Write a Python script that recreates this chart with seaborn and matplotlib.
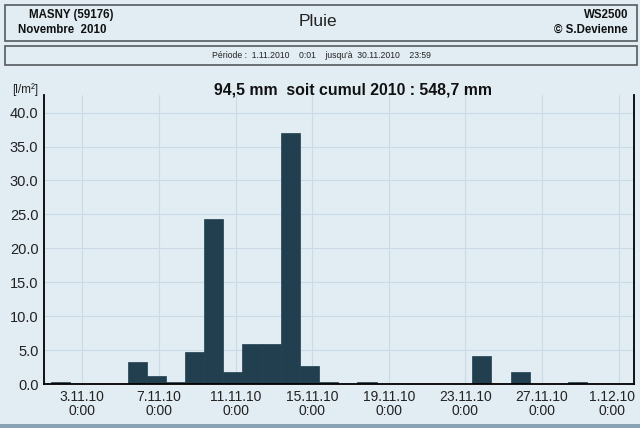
import numpy as np
import pandas as pd
import seaborn as sns
import matplotlib.pyplot as plt
from matplotlib.patches import Rectangle

# Pluie journaliere, Novembre 2010 (jour du mois -> mm)
jours = list(range(1, 31))
pluie = [0.3, 0.0, 0.0, 0.0, 3.2, 1.2, 0.3, 4.7, 24.3, 1.7,
         5.9, 5.9, 37.0, 2.6, 0.3, 0.0, 0.3, 0.0, 0.0, 0.0,
         0.0, 0.0, 4.1, 0.0, 1.7, 0.0, 0.0, 0.3, 0.0, 0.0]
tick_jours = [3, 7, 11, 15, 19, 23, 27, 31]
tick_labels = ["3.11.10\n0:00", "7.11.10\n0:00", "11.11.10\n0:00", "15.11.10\n0:00",
               "19.11.10\n0:00", "23.11.10\n0:00", "27.11.10\n0:00", "1.12.10\n0:00"]
y_ticks = [0, 5, 10, 15, 20, 25, 30, 35, 40]

bg = "#e1ecf3"
bar_col = "#213f4f"
grid_col = "#cbdae4"

sns.set_style("white")
plt.rcParams['font.family'] = ['Liberation Sans', 'DejaVu Sans']

df = pd.DataFrame({"jour": jours, "pluie": pluie})
# position du centre de chaque barre en jours depuis le 1.11 0:00
df["pos"] = df["jour"] - 1 + 0.86

fig = plt.figure(figsize=(6.4, 4.28), dpi=100, facecolor=bg)
ax = fig.add_axes([44 / 640, 44 / 428, 590 / 640, 289 / 428])
ax.set_facecolor(bg)

sns.barplot(data=df, x="pos", y="pluie", native_scale=True, width=1,
            color=bar_col, saturation=1, errorbar=None, ax=ax,
            edgecolor=bar_col, linewidth=0.5)

ax.set_xlim(0, 30.8)
ax.set_ylim(0, 42.6)
xt = [j - 1 for j in tick_jours]
ax.set_xticks(xt)
# le dernier label est place a part pour rester dans l'image
ax.set_xticklabels(tick_labels[:-1] + [""], fontsize=10, color="#222222",
                   linespacing=1.05, multialignment="center")
ax.annotate(tick_labels[-1], xy=(xt[-1], 0), xycoords=("data", "axes fraction"),
            xytext=(-5, -4), textcoords="offset points", ha="center", va="top",
            fontsize=10, color="#222222", linespacing=1.05, multialignment="center",
            annotation_clip=False)
ax.set_yticks(y_ticks)
ax.set_yticklabels([f"{v:.1f}" for v in y_ticks], fontsize=10.5, color="#222222")
ax.set_xlabel("")
ax.set_ylabel("")
ax.tick_params(axis="both", length=0, pad=4)
ax.grid(True, color=grid_col, linewidth=0.8)
ax.set_axisbelow(True)
for s in ["left", "bottom", "right"]:
    ax.spines[s].set_color("black")
    ax.spines[s].set_linewidth(1.3)
ax.spines["top"].set_visible(False)

def px(x, y):
    return x / 640, 1 - y / 428

# cadres d'en-tete
for (x0, y0, w, h) in [(5, 5, 632, 36), (5, 46, 632, 19)]:
    fig.patches.append(Rectangle(px(x0, y0 + h), w / 640, h / 428,
                                 transform=fig.transFigure, fill=False,
                                 edgecolor="#555a5e", linewidth=1.2))
fig.patches.append(Rectangle((0, 0), 1, 4 / 428, transform=fig.transFigure,
                             facecolor="#8aa3b4", edgecolor="none"))

fig.text(*px(71, 15), "MASNY (59176)", ha="center", va="center",
         fontsize=8.3, fontweight="bold", color="#111111")
fig.text(*px(62, 30), "Novembre  2010", ha="center", va="center",
         fontsize=8.3, fontweight="bold", color="#111111")
fig.text(*px(318, 22), "Pluie", ha="center", va="center",
         fontsize=12.5, color="#222222")
fig.text(*px(628, 15), "WS2500", ha="right", va="center",
         fontsize=8.3, fontweight="bold", color="#111111")
fig.text(*px(628, 30), "© S.Devienne", ha="right", va="center",
         fontsize=8.3, fontweight="bold", color="#111111")
fig.text(*px(321, 56), "Période :  1.11.2010    0:01    jusqu'à  30.11.2010    23:59",
         ha="center", va="center", fontsize=6.2, color="#222222")
fig.text(*px(12, 90), "[l/m²]", ha="left", va="center", fontsize=8.5, color="#222222")
fig.text(*px(353, 90), "94,5 mm  soit cumul 2010 : 548,7 mm", ha="center",
         va="center", fontsize=11.4, fontweight="bold", color="#111111")

fig.savefig("out.png", dpi=100, facecolor=bg)
